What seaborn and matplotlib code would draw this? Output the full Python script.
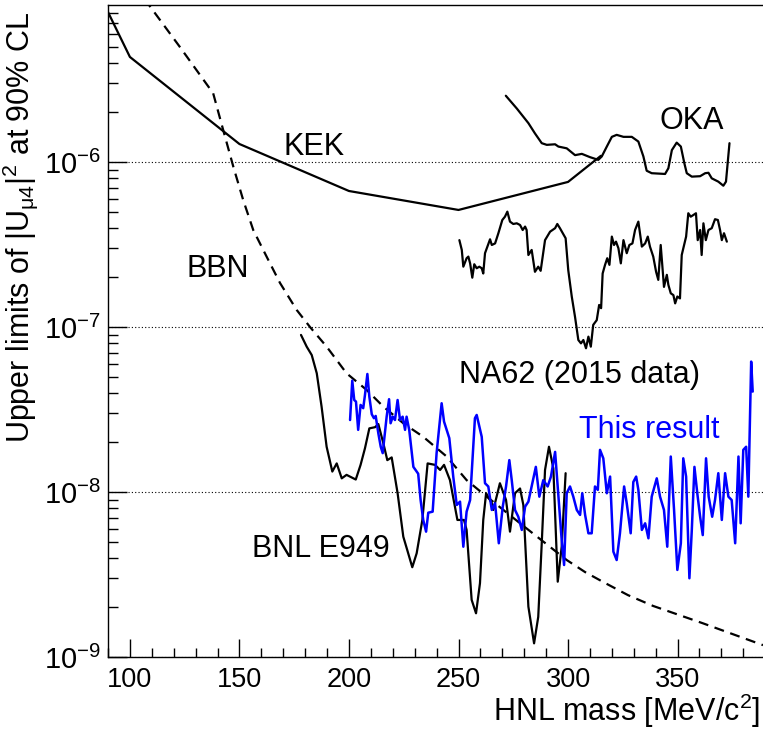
import matplotlib
matplotlib.use("Agg")
import matplotlib.pyplot as plt
import seaborn as sns
from matplotlib.ticker import MultipleLocator, LogLocator, NullFormatter

# KEK limit
kek_mass = [90, 100, 150, 200, 250, 300, 315]
kek_lim = [8.1e-6, 4.33e-6, 1.285e-6, 6.67e-7, 5.12e-7, 7.57e-7, 1.09e-6]

# OKA limit
oka_mass = [271.6, 276.6, 281.9, 284.9, 288.0, 290.3, 294.1, 295.6, 299.4, 303.2,
            306.3, 310.0, 313.8, 315.4, 317.7, 320.0, 322.2, 325.3, 329.1, 332.1,
            334.4, 335.9, 338.2, 344.3, 345.8, 347.4, 349.6, 351.5, 353.1, 354.2,
            356.5, 360.3, 362.6, 364.1, 365.6, 368.6, 370.9, 372.1, 373.7]
oka_lim = [2.52e-6, 2.11e-6, 1.72e-6, 1.49e-6, 1.30e-6, 1.27e-6, 1.28e-6, 1.24e-6, 1.21e-6, 1.10e-6,
           1.12e-6, 1.07e-6, 1.03e-6, 1.08e-6, 1.24e-6, 1.42e-6, 1.46e-6, 1.42e-6, 1.42e-6, 1.33e-6,
           1.08e-6, 8.85e-7, 8.55e-7, 8.46e-7, 9.16e-7, 1.18e-6, 1.31e-6, 1.24e-6, 9.82e-7, 8.55e-7,
           8.15e-7, 8.2e-7, 8.55e-7, 8.6e-7, 7.96e-7, 7.60e-7, 7.18e-7, 7.60e-7, 1.30e-6]

# BBN bound (dashed)
bbn_mass = [106, 122.8, 138.0, 142.6, 147.2, 151.7, 156.3, 162.4, 168.5, 176.1,
            182.2, 189.8, 198.9, 208.1, 215.7, 224.8, 233.9, 244.6, 253.7, 262.9,
            278.1, 299.4, 307.8, 316.0, 327.4, 338.8, 361.6, 389.0]
bbn_lim = [1.0e-5, 4.98e-6, 2.61e-6, 1.56e-6, 9.37e-7, 5.89e-7, 3.87e-7, 2.67e-7, 1.85e-7, 1.27e-7,
           1.0e-7, 7.6e-8, 5.24e-8, 4.15e-8, 3.29e-8, 2.61e-8, 2.16e-8, 1.64e-8, 1.18e-8, 9.37e-9,
           6.46e-9, 3.87e-9, 3.27e-9, 2.85e-9, 2.37e-9, 2.04e-9, 1.60e-9, 1.18e-9]

# BNL E949 limit
bnl_mass = [178.1, 180.7, 183.0, 185.3, 187.5, 189.8, 192.4, 194.4, 196.7, 198.9,
            203.1, 205.3, 207.3, 209.3, 211.9, 213.4, 215.7, 217.5, 219.5, 222.2,
            224.8, 226.6, 228.9, 230.9, 233.5, 235.9, 239.3, 241.6, 243.4, 246.1,
            249.5, 252.5, 253.7, 256.0, 258.0, 259.8, 261.3, 262.6, 265.2, 265.9,
            268.9, 271.7, 273.5, 275.8, 278.1, 279.6, 281.9, 284.5, 286.4, 288.0,
            289.5, 291.3, 293.3, 295.3, 297.1, 298.9]
bnl_lim = [8.95e-8, 7.60e-8, 6.76e-8, 5.24e-8, 3.29e-8, 1.88e-8, 1.33e-8, 1.49e-8, 1.21e-8, 1.27e-8,
           1.19e-8, 1.46e-8, 1.84e-8, 2.43e-8, 2.47e-8, 2.58e-8, 1.97e-8, 1.56e-8, 1.62e-8, 9.83e-9,
           5.36e-9, 4.45e-9, 3.50e-9, 4.25e-9, 6.77e-9, 1.49e-8, 1.46e-8, 1.36e-8, 1.46e-8, 1.18e-8,
           6.77e-9, 6.77e-9, 5.89e-9, 2.22e-9, 1.84e-9, 2.80e-9, 6.77e-9, 9.83e-9, 8.54e-9, 7.78e-9,
           1.13e-8, 8.94e-9, 5.75e-9, 9.83e-9, 1.05e-8, 8.34e-9, 2.02e-9, 1.21e-9, 1.75e-9, 4.89e-9,
           1.36e-8, 1.88e-8, 1.39e-8, 2.86e-9, 4.66e-9, 1.30e-8]

# NA62 (2015 data) limit
na62_mass = [250.4, 251.5, 252.2, 253.7, 254.5, 255.3, 256.3, 257.2, 258.3, 259.5,
             260.6, 261.3, 262.1, 264.4, 265.2, 266.7, 268.2, 270.0, 271.2, 272.3,
             273.5, 275.0, 276.6, 278.1, 279.3, 280.4, 281.1, 281.9, 283.4, 284.9,
             286.4, 287.5, 289.5, 291.8, 294.1, 295.1, 296.3, 298.9, 300.1, 301.7,
             303.2, 304.7, 305.9, 307.0, 308.2, 309.3, 310.4, 311.5, 313.1, 314.2,
             315.1, 315.8, 316.9, 317.9, 318.9, 320.0, 321.0, 321.9, 323.0, 324.1,
             325.3, 326.8, 328.0, 329.4, 330.6, 332.1, 333.7, 335.2, 336.4, 337.4,
             338.9, 340.2, 341.2, 342.3, 343.8, 345.1, 345.8, 346.9, 348.1, 348.9,
             349.9, 351.1, 351.9, 353.9, 354.9, 356.0, 357.2, 358.4, 359.2, 360.3,
             361.0, 361.8, 362.9, 364.1, 365.6, 367.1, 368.4, 369.4, 370.2, 371.2,
             372.5]
na62_lim = [3.36e-7, 2.93e-7, 2.32e-7, 2.61e-7, 2.67e-7, 2.43e-7, 1.99e-7, 2.40e-7, 2.27e-7, 2.32e-7,
            2.27e-7, 2.11e-7, 2.80e-7, 3.40e-7, 3.14e-7, 3.21e-7, 3.70e-7, 4.45e-7, 4.66e-7, 5.0e-7,
            4.35e-7, 4.21e-7, 4.25e-7, 4.15e-7, 3.87e-7, 4.06e-7, 3.87e-7, 2.73e-7, 2.93e-7, 2.16e-7,
            2.32e-7, 2.19e-7, 3.36e-7, 3.78e-7, 3.97e-7, 4.21e-7, 3.97e-7, 3.45e-7, 2.21e-7, 1.53e-7,
            1.15e-7, 8.34e-8, 7.96e-8, 8.34e-8, 7.43e-8, 8.74e-8, 7.60e-8, 1.03e-7, 1.10e-7, 1.36e-7,
            1.30e-7, 2.11e-7, 2.38e-7, 2.61e-7, 2.38e-7, 3.53e-7, 3.14e-7, 3.29e-7, 3.0e-7, 2.43e-7,
            3.36e-7, 2.80e-7, 3.14e-7, 3.21e-7, 3.87e-7, 4.35e-7, 3.07e-7, 3.21e-7, 3.53e-7, 3.07e-7,
            2.67e-7, 2.16e-7, 1.93e-7, 3.14e-7, 1.75e-7, 2.07e-7, 1.80e-7, 1.60e-7, 1.56e-7, 1.39e-7,
            1.53e-7, 1.49e-7, 2.73e-7, 3.53e-7, 4.89e-7, 4.66e-7, 4.77e-7, 4.89e-7, 3.36e-7, 3.87e-7,
            2.73e-7, 4.25e-7, 3.36e-7, 3.87e-7, 3.97e-7, 4.50e-7, 4.45e-7, 3.87e-7, 3.36e-7, 3.70e-7,
            3.29e-7]

# This result (blue)
this_mass = [200.5, 201.5, 202.4, 203.2, 204.2, 205.3, 206.5, 207.3, 208.4, 209.3,
             210.4, 211.4, 212.2, 213.4, 214.5, 215.4, 216.4, 217.2, 218.3, 219.0,
             220.0, 221.0, 222.2, 223.3, 224.5, 225.6, 226.3, 227.5, 229.4, 231.6,
             232.7, 233.9, 235.2, 236.2, 238.2, 240.0, 242.3, 243.4, 245.8, 247.6,
             249.2, 250.7, 252.2, 253.7, 255.3, 257.5, 258.3, 260.6, 262.1, 263.6,
             265.2, 266.7, 268.4, 270.2, 271.7, 273.2, 274.3, 275.8, 277.3, 278.9,
             280.4, 281.9, 283.4, 285.3, 286.9, 288.7, 290.7, 292.2, 294.1, 295.6,
             297.1, 298.2, 299.4, 300.9, 302.4, 304.0, 305.5, 306.5, 307.8, 309.3,
             310.8, 312.3, 313.6, 314.6, 316.1, 317.7, 319.2, 320.7, 322.2, 323.7,
             325.6, 326.8, 328.6, 329.8, 331.1, 332.1, 333.7, 335.2, 336.7, 338.2,
             340.5, 342.0, 343.8, 345.3, 346.9, 348.4, 349.9, 351.5, 352.6, 353.9,
             355.4, 356.5, 357.7, 359.0, 360.3, 361.5, 363.0, 364.2, 365.8, 367.1,
             368.6, 370.2, 371.7, 373.2, 374.7, 376.3, 377.8, 378.8, 380.0, 381.3,
             382.3, 383.6, 384.3]
this_lim = [2.73e-8, 4.73e-8, 3.61e-8, 3.53e-8, 2.38e-8, 3.37e-8, 3.22e-8, 3.87e-8, 5.19e-8, 3.78e-8,
            2.96e-8, 2.80e-8, 2.89e-8, 2.27e-8, 1.88e-8, 1.72e-8, 2.27e-8, 2.86e-8, 3.65e-8, 2.61e-8,
            2.86e-8, 2.73e-8, 3.61e-8, 2.73e-8, 2.86e-8, 2.38e-8, 2.86e-8, 2.38e-8, 1.42e-8, 1.29e-8,
            8.94e-9, 6.77e-9, 5.75e-9, 7.49e-9, 7.60e-9, 1.72e-8, 3.45e-8, 2.67e-8, 2.12e-8, 1.24e-8,
            8.34e-9, 8.74e-9, 4.66e-9, 7.60e-9, 8.94e-9, 2.80e-8, 2.93e-8, 2.16e-8, 1.13e-8, 1.08e-8,
            7.78e-9, 8.54e-9, 4.89e-9, 8.15e-9, 1.08e-8, 1.56e-8, 1.18e-8, 7.78e-9, 7.08e-9, 5.89e-9,
            8.15e-9, 8.74e-9, 1.08e-8, 1.42e-8, 9.37e-9, 1.18e-8, 1.08e-8, 1.24e-8, 1.75e-8, 9.37e-9,
            5.12e-9, 3.61e-9, 9.83e-9, 1.08e-8, 9.37e-9, 7.78e-9, 7.26e-9, 9.83e-9, 7.26e-9, 5.62e-9,
            5.62e-9, 1.08e-8, 1.03e-8, 1.80e-8, 1.60e-8, 9.83e-9, 1.24e-8, 4.35e-9, 3.87e-9, 5.62e-9,
            1.08e-8, 8.54e-9, 5.62e-9, 1.15e-8, 1.24e-8, 1.03e-8, 5.89e-9, 6.46e-9, 5.24e-9, 9.37e-9,
            1.21e-8, 9.37e-9, 7.78e-9, 4.66e-9, 1.64e-8, 7.78e-9, 3.37e-9, 4.89e-9, 1.60e-8, 1.24e-8,
            3.0e-9, 5.89e-9, 1.42e-8, 9.83e-9, 7.08e-9, 5.48e-9, 1.60e-8, 9.37e-9, 7.08e-9, 8.94e-9,
            1.30e-8, 6.77e-9, 1.30e-8, 9.37e-9, 8.94e-9, 4.89e-9, 1.64e-8, 6.46e-9, 1.80e-8, 1.88e-8,
            9.37e-9, 6.17e-8, 4.06e-8]

sns.set_style("ticks")
plt.rcParams["font.family"] = ["Liberation Sans", "DejaVu Sans"]
plt.rcParams["mathtext.fontset"] = "custom"
plt.rcParams["mathtext.rm"] = "Liberation Sans"
plt.rcParams["mathtext.it"] = "Liberation Sans:italic"
plt.rcParams["mathtext.bf"] = "Liberation Sans:bold"
plt.rcParams["axes.linewidth"] = 1.0
plt.rcParams["text.color"] = "black"
plt.rcParams["axes.labelcolor"] = "black"
plt.rcParams["xtick.color"] = "black"
plt.rcParams["ytick.color"] = "black"

fig = plt.figure(figsize=(7.63, 7.32), dpi=100)
ax = fig.add_axes([108 / 763, 1 - 657 / 732, 655 / 763, 652 / 732])

line_kw = dict(ax=ax, sort=False, estimator=None, lw=1.6, legend=False)
sns.lineplot(x=kek_mass, y=kek_lim, color="black", **line_kw)
sns.lineplot(x=oka_mass, y=oka_lim, color="black", **line_kw)
sns.lineplot(x=bbn_mass, y=bbn_lim, color="black", linestyle=(0, (4.5, 3)), **line_kw)
sns.lineplot(x=na62_mass, y=na62_lim, color="black", **line_kw)
sns.lineplot(x=bnl_mass, y=bnl_lim, color="black", **line_kw)
sns.lineplot(x=this_mass, y=this_lim, color="#0000ff", lw=1.8, ax=ax, sort=False,
             estimator=None, legend=False)

ax.set_yscale("log")
ax.set_xlim(90, 389)
ax.set_ylim(1e-9, 8.94e-6)

ax.xaxis.set_major_locator(MultipleLocator(50))
ax.xaxis.set_minor_locator(MultipleLocator(10))
ax.yaxis.set_major_locator(LogLocator(base=10, numticks=10))
ax.yaxis.set_minor_locator(LogLocator(base=10, subs=range(2, 10), numticks=20))
ax.yaxis.set_minor_formatter(NullFormatter())

ax.tick_params(axis="both", which="both", direction="in", width=1, colors="black",
               top=False, right=False)
ax.tick_params(axis="x", which="major", length=13, pad=7, labelsize=19.5)
ax.tick_params(axis="x", which="minor", length=6.5)
ax.tick_params(axis="y", which="major", length=14, pad=5, labelsize=21)
ax.tick_params(axis="y", which="minor", length=7)

ax.yaxis.grid(True, which="major", linestyle=(0, (1, 2)), color="black", lw=0.8)
ax.xaxis.grid(False)
ax.spines["right"].set_visible(False)
for s in ["top", "left", "bottom"]:
    ax.spines[s].set_color("black")

ax.set_xlabel(r"HNL mass [MeV/c$^{2}$]", fontsize=22, loc="right")
ax.xaxis.set_label_coords(0.996, -0.053)
ax.set_ylabel(r"Upper limits of $|\mathrm{U}_{\mathrm{\mu}4}|^{2}$ at 90% CL", fontsize=22, loc="top")
ax.yaxis.set_label_coords(-0.104, 0.99)

txt_kw = dict(fontsize=22, ha="left", va="baseline")
ax.text(170.3, 1.10e-6, "KEK", **txt_kw)
ax.text(126.0, 2.01e-7, "BBN", **txt_kw)
ax.text(341.6, 1.585e-6, "OKA", **txt_kw)
ax.text(250.2, 4.58e-8, "NA62 (2015 data)", **txt_kw)
ax.text(305.0, 2.12e-8, "This result", color="#0000ff", **txt_kw)
ax.text(155.6, 4.04e-9, "BNL E949", **txt_kw)

fig.savefig("out.png", dpi=100)
